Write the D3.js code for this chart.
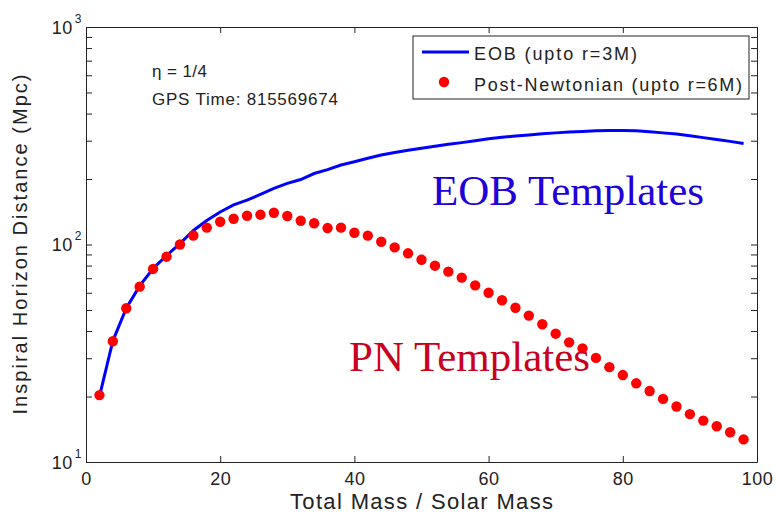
<!DOCTYPE html>
<html>
<head>
<meta charset="utf-8">
<script src="https://cdn.jsdelivr.net/npm/d3@7/dist/d3.min.js"></script>
<style>
  body { margin: 0; background: #fff; }
  text { font-family: Arial, "Liberation Sans", sans-serif; fill: #222; }
  .axis path, .axis line { stroke: #222; }
  .axis text { font-size: 18px; letter-spacing: 0.5px; }
</style>
</head>
<body>
<div id="chart"></div>
<script>
const margin = {
  top: 27, right: 19, bottom: 53, left: 86,
};
const width = 776 - margin.left - margin.right;
const height = 515 - margin.top - margin.bottom;

// total mass (solar masses) at which both template families were sampled
const masses = [2, 4, 6, 8, 10, 12, 14, 16, 18, 20, 22, 24, 26, 28, 30, 32, 34, 36, 38, 40,
  42, 44, 46, 48, 50, 52, 54, 56, 58, 60, 62, 64, 66, 68, 70, 72, 74, 76, 78, 80,
  82, 84, 86, 88, 90, 92, 94, 96, 98];
// post-newtonian horizon distance (Mpc), red dots
const pnDistance = [20.3, 35.9, 50.9, 64, 77.2, 87.9, 100, 110, 119.5, 127.3, 131.4, 135.6, 137.1, 140, 135.2,
  128.6, 125.2, 119, 119.5, 113.3, 109.8, 103, 97, 91.1, 85.1, 79.9, 75, 70.4, 64.9, 60,
  55.4, 51.2, 47.1, 43, 38.9, 35.5, 33.3, 30.1, 27.3, 25.1, 23, 21.2, 19.5, 18, 16.6,
  15.5, 14.6, 13.7, 12.7];
// EOB horizon distance (Mpc), blue line
const eobDistance = [20, 36, 51, 64.5, 77.5, 89, 101, 116, 129, 141, 152, 160, 170, 181, 191,
  199, 212, 221, 232, 240, 249, 258, 265, 271, 277, 283, 289, 294, 300, 306,
  311, 315, 319, 323, 326, 329, 331, 333, 334, 334, 333, 330, 326, 322, 316,
  310, 304, 298, 291];

const xTicks = [0, 20, 40, 60, 80, 100];
const yDecades = [10, 100, 1000];
const yMinor = [20, 30, 40, 50, 60, 70, 80, 90, 200, 300, 400, 500, 600, 700, 800, 900];

const legendLabels = ['EOB (upto r=3M)', 'Post-Newtonian (upto r=6M)'];
const infoLines = ['\u03b7 = 1/4', 'GPS Time: 815569674'];

const xScale = d3.scaleLinear().domain([0, 100]).range([0, width]);
const yScale = d3.scaleLog().domain([10, 1000]).range([height, 0]);

const svg = d3.select('#chart').append('svg')
  .attr('width', width + margin.left + margin.right)
  .attr('height', height + margin.top + margin.bottom)
  .append('g')
  .attr('transform', `translate(${margin.left},${margin.top})`);

// matlab style box: ticks point inwards on all four sides
const yTickVals = yDecades.concat(yMinor);

svg.append('g')
  .attr('class', 'x axis')
  .attr('transform', `translate(0,${height})`)
  .call(d3.axisBottom(xScale).tickValues(xTicks).tickSize(-6).tickPadding(10).tickSizeOuter(0));

svg.append('g')
  .attr('class', 'x axis')
  .call(d3.axisTop(xScale).tickValues(xTicks).tickSize(-6).tickFormat('').tickSizeOuter(0));

svg.append('g')
  .attr('class', 'y axis')
  .call(d3.axisLeft(yScale).tickValues(yTickVals).tickSize(-6).tickFormat('').tickSizeOuter(0));

svg.append('g')
  .attr('class', 'y axis')
  .attr('transform', `translate(${width},0)`)
  .call(d3.axisRight(yScale).tickValues(yTickVals).tickSize(-6).tickFormat('').tickSizeOuter(0));

// decade labels 10^n
const yLab = svg.append('g').attr('class', 'ylab');
yDecades.forEach((v) => {
  const t = yLab.append('text')
    .attr('x', -4)
    .attr('y', yScale(v) + 6.5)
    .attr('text-anchor', 'end')
    .style('font-size', '18px')
    .style('letter-spacing', '0.5px');
  t.append('tspan').text('10');
  t.append('tspan')
    .attr('dx', 2)
    .attr('dy', -11)
    .style('font-size', '12px')
    .text(String(Math.round(Math.log10(v))));
});

// axis titles
svg.append('text')
  .attr('x', width / 2)
  .attr('y', height + 47)
  .attr('text-anchor', 'middle')
  .attr('textLength', 263)
  .attr('lengthAdjust', 'spacing')
  .style('font-size', '22px')
  .text('Total Mass / Solar Mass');

svg.append('text')
  .attr('transform', 'rotate(-90)')
  .attr('x', -height / 2)
  .attr('y', -59)
  .attr('text-anchor', 'middle')
  .attr('textLength', 340)
  .attr('lengthAdjust', 'spacing')
  .style('font-size', '20px')
  .text('Inspiral Horizon Distance (Mpc)');

// EOB curve
const line = d3.line()
  .x((d, i) => xScale(masses[i]))
  .y(d => yScale(d));

svg.append('path')
  .attr('d', line(eobDistance))
  .attr('fill', 'none')
  .attr('stroke', '#0000ff')
  .attr('stroke-width', 3);

// PN dots
svg.selectAll('.pn')
  .data(pnDistance)
  .enter().append('circle')
  .attr('class', 'pn')
  .attr('cx', (d, i) => xScale(masses[i]))
  .attr('cy', d => yScale(d))
  .attr('r', 5.2)
  .attr('fill', '#ff0000');

// big annotations
svg.append('text')
  .attr('x', 346)
  .attr('y', 178)
  .style('font-family', '"Liberation Serif", "Times New Roman", serif')
  .style('font-size', '43px')
  .style('fill', '#2000d8')
  .text('EOB Templates');

svg.append('text')
  .attr('x', 263)
  .attr('y', 344)
  .style('font-family', '"Liberation Serif", "Times New Roman", serif')
  .style('font-size', '43px')
  .style('fill', '#c8001e')
  .text('PN Templates');

// eta / gps text
const info = svg.append('g');
info.append('text')
  .attr('x', 66)
  .attr('y', 50)
  .style('font-size', '17px')
  .style('letter-spacing', '0.4px')
  .text(infoLines[0]);
info.append('text')
  .attr('x', 66)
  .attr('y', 78)
  .attr('textLength', 186)
  .attr('lengthAdjust', 'spacing')
  .style('font-size', '17px')
  .text(infoLines[1]);

// legend
const legend = svg.append('g')
  .attr('transform', `translate(${width - 344},9)`);

legend.append('rect')
  .attr('width', 336)
  .attr('height', 63)
  .attr('fill', '#fff')
  .attr('stroke', '#222');

legend.append('line')
  .attr('x1', 9).attr('x2', 56)
  .attr('y1', 16).attr('y2', 16)
  .attr('stroke', '#0000ff')
  .attr('stroke-width', 3);

legend.append('circle')
  .attr('cx', 31)
  .attr('cy', 46)
  .attr('r', 5.2)
  .attr('fill', '#ff0000');

const legendWidths = [163, 268];
legendLabels.forEach((s, i) => {
  legend.append('text')
    .attr('x', 61)
    .attr('y', 24 + i * 31)
    .attr('textLength', legendWidths[i])
    .attr('lengthAdjust', 'spacing')
    .style('font-size', '18px')
    .text(s);
});
</script>
</body>
</html>
